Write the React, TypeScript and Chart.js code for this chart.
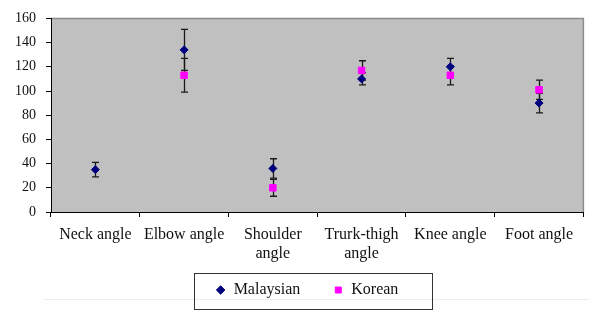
import React, { useEffect, useRef } from "react";
import { Chart, registerables } from "chart.js";

Chart.register(...registerables);

const categories: (string | string[])[] = [
  "Neck angle",
  "Elbow angle",
  ["Shoulder", "angle"],
  ["Trurk-thigh", "angle"],
  "Knee angle",
  "Foot angle",
];
const malaysian = [35, 134, 36, 110, 120, 90];
const malaysianErr = [6, 17, 8, 5, 7, 8];
const korean = [null, 113, 20, 117, 113, 101];
const koreanErr = [null, 14, 7, 8, 8, 8];
const yMin = 0;
const yMax = 160;
const yStep = 20;

const FONT = "'Liberation Serif', 'Times New Roman', serif";

const bgPlugin = {
  id: "plotBg",
  beforeDraw(chart: any) {
    const { ctx, chartArea: a } = chart;
    ctx.save();
    ctx.fillStyle = "#c0c0c0";
    ctx.fillRect(a.left, a.top, a.right - a.left, a.bottom - a.top);
    ctx.strokeStyle = "#8c8c8c";
    ctx.lineWidth = 1.5;
    ctx.beginPath();
    ctx.moveTo(a.left, a.top);
    ctx.lineTo(a.right, a.top);
    ctx.lineTo(a.right, a.bottom);
    ctx.stroke();
    // faint frame line behind legend
    ctx.strokeStyle = "#ececec";
    ctx.lineWidth = 1;
    ctx.beginPath();
    ctx.moveTo(44, 299.5);
    ctx.lineTo(chart.width, 299.5);
    ctx.stroke();
    ctx.restore();
  },
};

const errorBarPlugin = {
  id: "errorBars",
  beforeDatasetsDraw(chart: any) {
    const { ctx } = chart;
    const xs = chart.scales.x;
    const ys = chart.scales.y;
    chart.data.datasets.forEach((ds: any) => {
      const errs = ds.errors as (number | null)[];
      if (!errs) return;
      ds.data.forEach((v: number | null, i: number) => {
        const e = errs[i];
        if (v == null || e == null) return;
        const px = Math.round(xs.getPixelForValue(i)) + 0.5;
        const top = ys.getPixelForValue(v + e);
        const bot = ys.getPixelForValue(v - e);
        ctx.save();
        ctx.strokeStyle = "#1a1a1a";
        ctx.lineWidth = 1.3;
        ctx.beginPath();
        ctx.moveTo(px, top);
        ctx.lineTo(px, bot);
        ctx.moveTo(px - 3.5, top);
        ctx.lineTo(px + 3.5, top);
        ctx.moveTo(px - 3.5, bot);
        ctx.lineTo(px + 3.5, bot);
        ctx.stroke();
        ctx.restore();
      });
    });
  },
};

const legendBoxPlugin = {
  id: "legendBox",
  afterDraw(chart: any) {
    const hb = chart.legend && chart.legend.legendHitBoxes;
    if (!hb || !hb.length) return;
    const { ctx } = chart;
    const last = hb[hb.length - 1];
    const l = Math.round(hb[0].left - 22) + 0.5;
    const r = Math.round(last.left + last.width + 34) + 0.5;
    const cy = hb[0].top + hb[0].height / 2;
    const t = Math.round(cy - 17) + 0.5;
    ctx.save();
    ctx.strokeStyle = "#333";
    ctx.lineWidth = 1;
    ctx.strokeRect(l, t, r - l, 36);
    ctx.restore();
  },
};

export default function App() {
  const ref = useRef<HTMLCanvasElement>(null);
  useEffect(() => {
    document.body.style.margin = "0";
    const chart = new Chart(ref.current!, {
      type: "line",
      data: {
        labels: categories as any,
        datasets: [
          {
            label: "Malaysian",
            data: malaysian,
            errors: malaysianErr,
            showLine: false,
            pointStyle: "rectRot",
            pointRadius: 4,
            backgroundColor: "#00007f",
            borderColor: "#00007f",
            borderWidth: 1,
          } as any,
          {
            label: "Korean",
            data: korean,
            errors: koreanErr,
            showLine: false,
            pointStyle: "rect",
            pointRadius: 4.6,
            backgroundColor: "#ff00ff",
            borderColor: "#ff00ff",
            borderWidth: 1,
          } as any,
        ],
      },
      options: {
        animation: false,
        responsive: true,
        maintainAspectRatio: false,
        layout: { padding: { left: 28, right: 3, top: 12, bottom: 3 } },
        plugins: {
          tooltip: { enabled: false },
          legend: {
            position: "bottom",
            labels: {
              usePointStyle: true,
              boxWidth: 10,
              boxHeight: 6,
              padding: 33,
              color: "#111",
              font: { family: FONT, size: 16 },
            },
          },
        },
        scales: {
          x: {
            type: "category",
            offset: true,
            grid: {
              display: true,
              offset: true,
              drawOnChartArea: false,
              drawTicks: true,
              tickLength: 5,
              color: "#000",
            },
            border: { display: true, color: "#000", width: 1 },
            ticks: {
              autoSkip: false,
              maxRotation: 0,
              padding: 9,
              color: "#111",
              font: { family: FONT, size: 16, lineHeight: 1.15 },
            },
            afterFit(s: any) {
              s.height = 37;
              s._computeLabelArea = () => undefined;
            },
          },
          y: {
            min: yMin,
            max: yMax,
            ticks: {
              stepSize: yStep,
              padding: 10,
              color: "#111",
              font: { family: FONT, size: 14 },
            },
            grid: {
              display: true,
              drawOnChartArea: false,
              drawTicks: true,
              tickLength: 5,
              color: "#000",
            },
            border: { display: true, color: "#000", width: 1 },
            afterFit(s: any) {
              s.width = 23;
              s._computeLabelArea = () => undefined;
            },
          },
        },
      } as any,
      plugins: [bgPlugin, errorBarPlugin, legendBoxPlugin],
    });
    return () => chart.destroy();
  }, []);
  return (
    <div style={{ position: "fixed", left: 0, top: 0, width: 589, height: 311 }}>
      <canvas ref={ref} style={{ display: "block" }} />
    </div>
  );
}
